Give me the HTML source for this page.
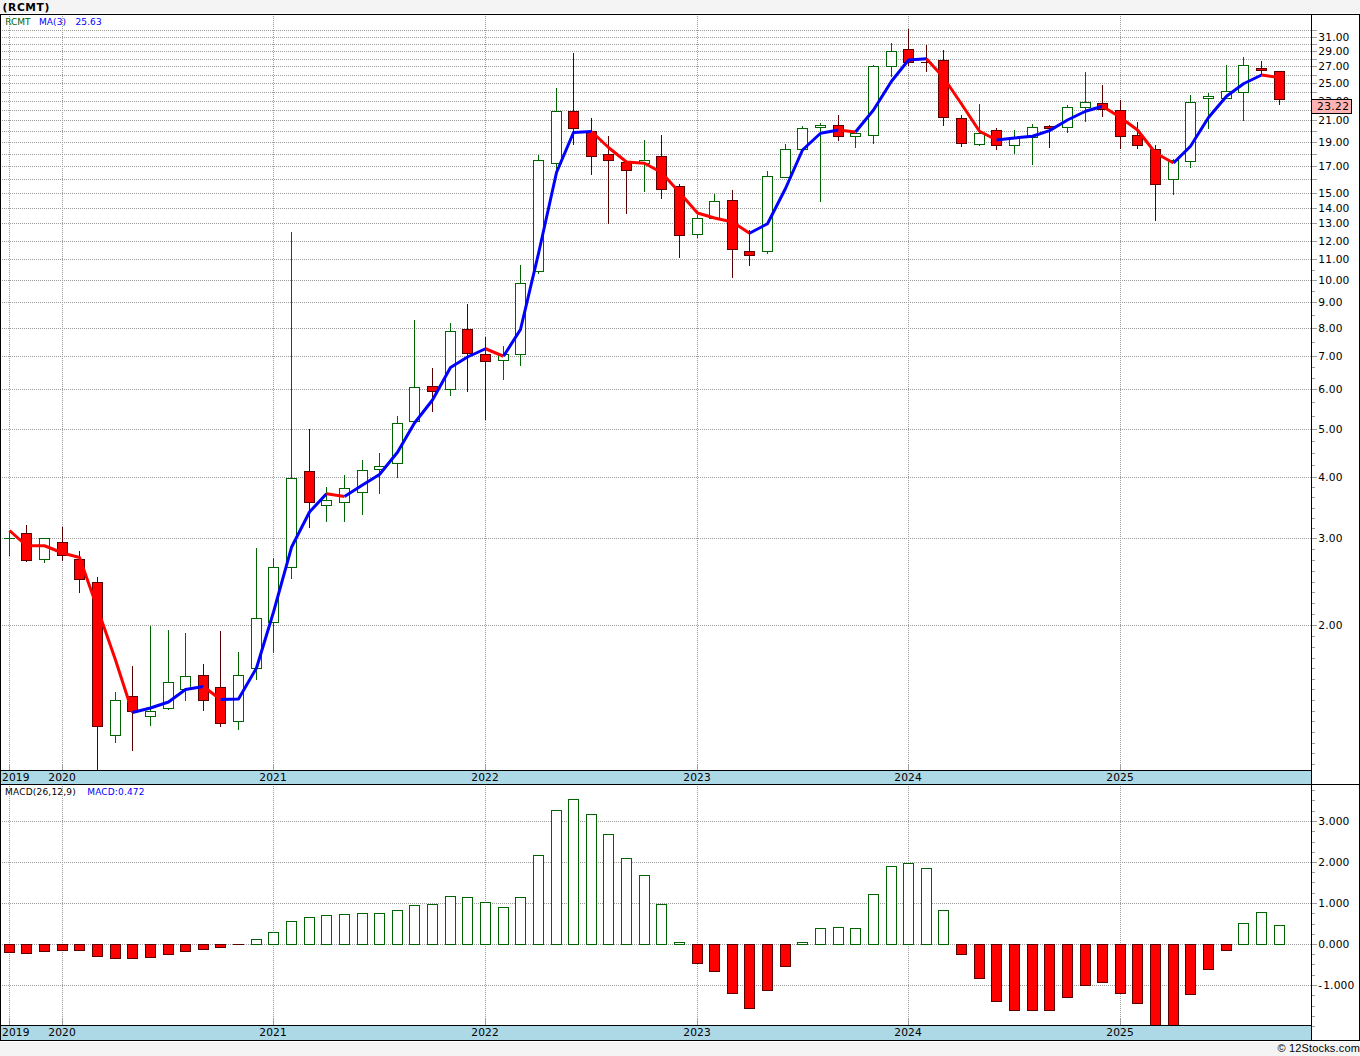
<!DOCTYPE html>
<html><head><meta charset="utf-8"><title>(RCMT)</title>
<style>html,body{margin:0;padding:0;background:#f4f4f4;}svg{display:block;}</style>
</head><body>
<svg width="1360" height="1056" viewBox="0 0 1360 1056">
<rect x="0" y="0" width="1360" height="1056" fill="#f4f4f4"/>
<rect x="0" y="13" width="1360" height="1029" fill="#ffffff"/>
<g shape-rendering="crispEdges" stroke="#9c9c9c" stroke-width="1" stroke-dasharray="1 1" fill="none">
<line x1="2" y1="30.5" x2="1311" y2="30.5"/>
<line x1="2" y1="37.5" x2="1311" y2="37.5"/>
<line x1="2" y1="44.5" x2="1311" y2="44.5"/>
<line x1="2" y1="51.5" x2="1311" y2="51.5"/>
<line x1="2" y1="59.5" x2="1311" y2="59.5"/>
<line x1="2" y1="66.5" x2="1311" y2="66.5"/>
<line x1="2" y1="75.5" x2="1311" y2="75.5"/>
<line x1="2" y1="83.5" x2="1311" y2="83.5"/>
<line x1="2" y1="92.5" x2="1311" y2="92.5"/>
<line x1="2" y1="101.5" x2="1311" y2="101.5"/>
<line x1="2" y1="110.5" x2="1311" y2="110.5"/>
<line x1="2" y1="120.5" x2="1311" y2="120.5"/>
<line x1="2" y1="131.5" x2="1311" y2="131.5"/>
<line x1="2" y1="142.5" x2="1311" y2="142.5"/>
<line x1="2" y1="154.5" x2="1311" y2="154.5"/>
<line x1="2" y1="166.5" x2="1311" y2="166.5"/>
<line x1="2" y1="179.5" x2="1311" y2="179.5"/>
<line x1="2" y1="193.5" x2="1311" y2="193.5"/>
<line x1="2" y1="208.5" x2="1311" y2="208.5"/>
<line x1="2" y1="223.5" x2="1311" y2="223.5"/>
<line x1="2" y1="241.5" x2="1311" y2="241.5"/>
<line x1="2" y1="259.5" x2="1311" y2="259.5"/>
<line x1="2" y1="280.5" x2="1311" y2="280.5"/>
<line x1="2" y1="302.5" x2="1311" y2="302.5"/>
<line x1="2" y1="328.5" x2="1311" y2="328.5"/>
<line x1="2" y1="356.5" x2="1311" y2="356.5"/>
<line x1="2" y1="389.5" x2="1311" y2="389.5"/>
<line x1="2" y1="429.5" x2="1311" y2="429.5"/>
<line x1="2" y1="477.5" x2="1311" y2="477.5"/>
<line x1="2" y1="538.5" x2="1311" y2="538.5"/>
<line x1="2" y1="625.5" x2="1311" y2="625.5"/>
<line x1="2" y1="821.5" x2="1311" y2="821.5"/>
<line x1="2" y1="862.5" x2="1311" y2="862.5"/>
<line x1="2" y1="903.5" x2="1311" y2="903.5"/>
<line x1="2" y1="944.5" x2="1311" y2="944.5"/>
<line x1="2" y1="985.5" x2="1311" y2="985.5"/>
<line x1="9.5" y1="16" x2="9.5" y2="770"/>
<line x1="9.5" y1="786" x2="9.5" y2="1025"/>
<line x1="62.5" y1="16" x2="62.5" y2="770"/>
<line x1="62.5" y1="786" x2="62.5" y2="1025"/>
<line x1="273.5" y1="16" x2="273.5" y2="770"/>
<line x1="273.5" y1="786" x2="273.5" y2="1025"/>
<line x1="485.5" y1="16" x2="485.5" y2="770"/>
<line x1="485.5" y1="786" x2="485.5" y2="1025"/>
<line x1="697.5" y1="16" x2="697.5" y2="770"/>
<line x1="697.5" y1="786" x2="697.5" y2="1025"/>
<line x1="908.5" y1="16" x2="908.5" y2="770"/>
<line x1="908.5" y1="786" x2="908.5" y2="1025"/>
<line x1="1120.5" y1="16" x2="1120.5" y2="770"/>
<line x1="1120.5" y1="786" x2="1120.5" y2="1025"/>
</g>
<g shape-rendering="crispEdges" stroke="#a0a0a0" stroke-width="1">
<line x1="1312" y1="30.5" x2="1317" y2="30.5"/>
<line x1="1312" y1="37.5" x2="1317" y2="37.5"/>
<line x1="1312" y1="44.5" x2="1317" y2="44.5"/>
<line x1="1312" y1="51.5" x2="1317" y2="51.5"/>
<line x1="1312" y1="59.5" x2="1317" y2="59.5"/>
<line x1="1312" y1="66.5" x2="1317" y2="66.5"/>
<line x1="1312" y1="75.5" x2="1317" y2="75.5"/>
<line x1="1312" y1="83.5" x2="1317" y2="83.5"/>
<line x1="1312" y1="92.5" x2="1317" y2="92.5"/>
<line x1="1312" y1="101.5" x2="1317" y2="101.5"/>
<line x1="1312" y1="110.5" x2="1317" y2="110.5"/>
<line x1="1312" y1="120.5" x2="1317" y2="120.5"/>
<line x1="1312" y1="131.5" x2="1317" y2="131.5"/>
<line x1="1312" y1="142.5" x2="1317" y2="142.5"/>
<line x1="1312" y1="154.5" x2="1317" y2="154.5"/>
<line x1="1312" y1="166.5" x2="1317" y2="166.5"/>
<line x1="1312" y1="179.5" x2="1317" y2="179.5"/>
<line x1="1312" y1="193.5" x2="1317" y2="193.5"/>
<line x1="1312" y1="208.5" x2="1317" y2="208.5"/>
<line x1="1312" y1="223.5" x2="1317" y2="223.5"/>
<line x1="1312" y1="241.5" x2="1317" y2="241.5"/>
<line x1="1312" y1="259.5" x2="1317" y2="259.5"/>
<line x1="1312" y1="280.5" x2="1317" y2="280.5"/>
<line x1="1312" y1="302.5" x2="1317" y2="302.5"/>
<line x1="1312" y1="328.5" x2="1317" y2="328.5"/>
<line x1="1312" y1="356.5" x2="1317" y2="356.5"/>
<line x1="1312" y1="389.5" x2="1317" y2="389.5"/>
<line x1="1312" y1="429.5" x2="1317" y2="429.5"/>
<line x1="1312" y1="477.5" x2="1317" y2="477.5"/>
<line x1="1312" y1="538.5" x2="1317" y2="538.5"/>
<line x1="1312" y1="625.5" x2="1317" y2="625.5"/>
<line x1="1312" y1="614.5" x2="1315" y2="614.5"/>
<line x1="1312" y1="603.5" x2="1315" y2="603.5"/>
<line x1="1312" y1="592.5" x2="1315" y2="592.5"/>
<line x1="1312" y1="582.5" x2="1315" y2="582.5"/>
<line x1="1312" y1="571.5" x2="1315" y2="571.5"/>
<line x1="1312" y1="560.5" x2="1315" y2="560.5"/>
<line x1="1312" y1="549.5" x2="1315" y2="549.5"/>
<line x1="1312" y1="528.5" x2="1315" y2="528.5"/>
<line x1="1312" y1="518.5" x2="1315" y2="518.5"/>
<line x1="1312" y1="508.5" x2="1315" y2="508.5"/>
<line x1="1312" y1="497.5" x2="1315" y2="497.5"/>
<line x1="1312" y1="487.5" x2="1315" y2="487.5"/>
<line x1="1312" y1="465.5" x2="1315" y2="465.5"/>
<line x1="1312" y1="453.5" x2="1315" y2="453.5"/>
<line x1="1312" y1="441.5" x2="1315" y2="441.5"/>
<line x1="1312" y1="416.5" x2="1315" y2="416.5"/>
<line x1="1312" y1="402.5" x2="1315" y2="402.5"/>
<line x1="1312" y1="378.5" x2="1315" y2="378.5"/>
<line x1="1312" y1="367.5" x2="1315" y2="367.5"/>
<line x1="1312" y1="342.5" x2="1315" y2="342.5"/>
<line x1="1312" y1="315.5" x2="1315" y2="315.5"/>
<line x1="1312" y1="291.5" x2="1315" y2="291.5"/>
<line x1="1312" y1="270.5" x2="1315" y2="270.5"/>
<line x1="1312" y1="636.5" x2="1315" y2="636.5"/>
<line x1="1312" y1="647.5" x2="1315" y2="647.5"/>
<line x1="1312" y1="658.5" x2="1315" y2="658.5"/>
<line x1="1312" y1="668.5" x2="1315" y2="668.5"/>
<line x1="1312" y1="679.5" x2="1315" y2="679.5"/>
<line x1="1312" y1="689.5" x2="1315" y2="689.5"/>
<line x1="1312" y1="700.5" x2="1315" y2="700.5"/>
<line x1="1312" y1="711.5" x2="1315" y2="711.5"/>
<line x1="1312" y1="721.5" x2="1315" y2="721.5"/>
<line x1="1312" y1="732.5" x2="1315" y2="732.5"/>
<line x1="1312" y1="743.5" x2="1315" y2="743.5"/>
<line x1="1312" y1="753.5" x2="1315" y2="753.5"/>
<line x1="1312" y1="764.5" x2="1315" y2="764.5"/>
<line x1="1312" y1="821.5" x2="1317" y2="821.5"/>
<line x1="1312" y1="862.5" x2="1317" y2="862.5"/>
<line x1="1312" y1="903.5" x2="1317" y2="903.5"/>
<line x1="1312" y1="944.5" x2="1317" y2="944.5"/>
<line x1="1312" y1="985.5" x2="1317" y2="985.5"/>
<line x1="9.5" y1="764" x2="9.5" y2="770"/>
<line x1="9.5" y1="1019" x2="9.5" y2="1025"/>
<line x1="62.5" y1="764" x2="62.5" y2="770"/>
<line x1="62.5" y1="1019" x2="62.5" y2="1025"/>
<line x1="273.5" y1="764" x2="273.5" y2="770"/>
<line x1="273.5" y1="1019" x2="273.5" y2="1025"/>
<line x1="485.5" y1="764" x2="485.5" y2="770"/>
<line x1="485.5" y1="1019" x2="485.5" y2="1025"/>
<line x1="697.5" y1="764" x2="697.5" y2="770"/>
<line x1="697.5" y1="1019" x2="697.5" y2="1025"/>
<line x1="908.5" y1="764" x2="908.5" y2="770"/>
<line x1="908.5" y1="1019" x2="908.5" y2="1025"/>
<line x1="1120.5" y1="764" x2="1120.5" y2="770"/>
<line x1="1120.5" y1="1019" x2="1120.5" y2="1025"/>
<line x1="1312" y1="1026.5" x2="1315" y2="1026.5"/>
<line x1="1312" y1="790.5" x2="1315" y2="790.5"/>
<line x1="1312" y1="800.5" x2="1315" y2="800.5"/>
<line x1="1312" y1="811.5" x2="1315" y2="811.5"/>
<line x1="1312" y1="831.5" x2="1315" y2="831.5"/>
<line x1="1312" y1="842.5" x2="1315" y2="842.5"/>
<line x1="1312" y1="852.5" x2="1315" y2="852.5"/>
<line x1="1312" y1="872.5" x2="1315" y2="872.5"/>
<line x1="1312" y1="882.5" x2="1315" y2="882.5"/>
<line x1="1312" y1="893.5" x2="1315" y2="893.5"/>
<line x1="1312" y1="913.5" x2="1315" y2="913.5"/>
<line x1="1312" y1="924.5" x2="1315" y2="924.5"/>
<line x1="1312" y1="934.5" x2="1315" y2="934.5"/>
<line x1="1312" y1="954.5" x2="1315" y2="954.5"/>
<line x1="1312" y1="964.5" x2="1315" y2="964.5"/>
<line x1="1312" y1="975.5" x2="1315" y2="975.5"/>
<line x1="1312" y1="995.5" x2="1315" y2="995.5"/>
<line x1="1312" y1="1006.5" x2="1315" y2="1006.5"/>
<line x1="1312" y1="1016.5" x2="1315" y2="1016.5"/>
</g>
<g shape-rendering="crispEdges" stroke-width="1">
<line x1="9.5" y1="531" x2="9.5" y2="556" stroke="#006400"/>
<line x1="4" y1="538.5" x2="15" y2="538.5" stroke="#006400"/>
<line x1="26.5" y1="525" x2="26.5" y2="562" stroke="#5a0000"/>
<rect x="21.5" y="533.5" width="10" height="27" fill="#ff0000" stroke="#5a0000"/>
<line x1="44.5" y1="538" x2="44.5" y2="563" stroke="#006400"/>
<rect x="39.5" y="538.5" width="10" height="21" fill="#ffffff" stroke="#006400"/>
<line x1="62.5" y1="527" x2="62.5" y2="561" stroke="#5a0000"/>
<rect x="57.5" y="542.5" width="10" height="13" fill="#ff0000" stroke="#5a0000"/>
<line x1="79.5" y1="551" x2="79.5" y2="593" stroke="#5a0000"/>
<rect x="74.5" y="559.5" width="10" height="20" fill="#ff0000" stroke="#5a0000"/>
<line x1="97.5" y1="577" x2="97.5" y2="770" stroke="#5a0000"/>
<rect x="92.5" y="582.5" width="10" height="144" fill="#ff0000" stroke="#5a0000"/>
<line x1="115.5" y1="692" x2="115.5" y2="743" stroke="#006400"/>
<rect x="110.5" y="700.5" width="10" height="35" fill="#ffffff" stroke="#006400"/>
<line x1="132.5" y1="666" x2="132.5" y2="751" stroke="#5a0000"/>
<rect x="127.5" y="696.5" width="10" height="15" fill="#ff0000" stroke="#5a0000"/>
<line x1="150.5" y1="626" x2="150.5" y2="726" stroke="#006400"/>
<rect x="145.5" y="711.5" width="10" height="5" fill="#ffffff" stroke="#006400"/>
<line x1="168.5" y1="630" x2="168.5" y2="710" stroke="#006400"/>
<rect x="163.5" y="682.5" width="10" height="26" fill="#ffffff" stroke="#006400"/>
<line x1="185.5" y1="633" x2="185.5" y2="701" stroke="#006400"/>
<rect x="180.5" y="676.5" width="10" height="13" fill="#ffffff" stroke="#006400"/>
<line x1="203.5" y1="664" x2="203.5" y2="711" stroke="#5a0000"/>
<rect x="198.5" y="675.5" width="10" height="25" fill="#ff0000" stroke="#5a0000"/>
<line x1="220.5" y1="631" x2="220.5" y2="727" stroke="#5a0000"/>
<rect x="215.5" y="687.5" width="10" height="36" fill="#ff0000" stroke="#5a0000"/>
<line x1="238.5" y1="652" x2="238.5" y2="730" stroke="#006400"/>
<rect x="233.5" y="675.5" width="10" height="46" fill="#ffffff" stroke="#006400"/>
<line x1="256.5" y1="548" x2="256.5" y2="680" stroke="#006400"/>
<rect x="251.5" y="618.5" width="10" height="50" fill="#ffffff" stroke="#006400"/>
<line x1="273.5" y1="558" x2="273.5" y2="653" stroke="#006400"/>
<rect x="268.5" y="567.5" width="10" height="55" fill="#ffffff" stroke="#006400"/>
<line x1="291.5" y1="232" x2="291.5" y2="579" stroke="#006400"/>
<rect x="286.5" y="478.5" width="10" height="89" fill="#ffffff" stroke="#006400"/>
<line x1="309.5" y1="429" x2="309.5" y2="528" stroke="#5a0000"/>
<rect x="304.5" y="471.5" width="10" height="31" fill="#ff0000" stroke="#5a0000"/>
<line x1="326.5" y1="487" x2="326.5" y2="522" stroke="#006400"/>
<rect x="321.5" y="500.5" width="10" height="5" fill="#ffffff" stroke="#006400"/>
<line x1="344.5" y1="475" x2="344.5" y2="522" stroke="#006400"/>
<rect x="339.5" y="488.5" width="10" height="14" fill="#ffffff" stroke="#006400"/>
<line x1="362.5" y1="460" x2="362.5" y2="515" stroke="#006400"/>
<rect x="357.5" y="470.5" width="10" height="22" fill="#ffffff" stroke="#006400"/>
<line x1="379.5" y1="453" x2="379.5" y2="494" stroke="#006400"/>
<rect x="374.5" y="466.5" width="10" height="3" fill="#ffffff" stroke="#006400"/>
<line x1="397.5" y1="416" x2="397.5" y2="478" stroke="#006400"/>
<rect x="392.5" y="423.5" width="10" height="40" fill="#ffffff" stroke="#006400"/>
<line x1="414.5" y1="320" x2="414.5" y2="421" stroke="#006400"/>
<rect x="409.5" y="387.5" width="10" height="34" fill="#ffffff" stroke="#006400"/>
<line x1="432.5" y1="368" x2="432.5" y2="412" stroke="#5a0000"/>
<rect x="427.5" y="386.5" width="10" height="5" fill="#ff0000" stroke="#5a0000"/>
<line x1="450.5" y1="323" x2="450.5" y2="396" stroke="#006400"/>
<rect x="445.5" y="331.5" width="10" height="58" fill="#ffffff" stroke="#006400"/>
<line x1="467.5" y1="304" x2="467.5" y2="392" stroke="#5a0000"/>
<rect x="462.5" y="329.5" width="10" height="24" fill="#ff0000" stroke="#5a0000"/>
<line x1="485.5" y1="337" x2="485.5" y2="420" stroke="#5a0000"/>
<rect x="480.5" y="354.5" width="10" height="7" fill="#ff0000" stroke="#5a0000"/>
<line x1="503.5" y1="346" x2="503.5" y2="380" stroke="#006400"/>
<rect x="498.5" y="354.5" width="10" height="6" fill="#ffffff" stroke="#006400"/>
<line x1="520.5" y1="265" x2="520.5" y2="366" stroke="#006400"/>
<rect x="515.5" y="283.5" width="10" height="71" fill="#ffffff" stroke="#006400"/>
<line x1="538.5" y1="155" x2="538.5" y2="274" stroke="#006400"/>
<rect x="533.5" y="160.5" width="10" height="111" fill="#ffffff" stroke="#006400"/>
<line x1="556.5" y1="88" x2="556.5" y2="170" stroke="#006400"/>
<rect x="551.5" y="111.5" width="10" height="52" fill="#ffffff" stroke="#006400"/>
<line x1="573.5" y1="53" x2="573.5" y2="145" stroke="#5a0000"/>
<rect x="568.5" y="111.5" width="10" height="17" fill="#ff0000" stroke="#5a0000"/>
<line x1="591.5" y1="118" x2="591.5" y2="175" stroke="#5a0000"/>
<rect x="586.5" y="131.5" width="10" height="25" fill="#ff0000" stroke="#5a0000"/>
<line x1="608.5" y1="136" x2="608.5" y2="224" stroke="#5a0000"/>
<rect x="603.5" y="154.5" width="10" height="6" fill="#ff0000" stroke="#5a0000"/>
<line x1="626.5" y1="162" x2="626.5" y2="214" stroke="#5a0000"/>
<rect x="621.5" y="162.5" width="10" height="8" fill="#ff0000" stroke="#5a0000"/>
<line x1="644.5" y1="140" x2="644.5" y2="192" stroke="#006400"/>
<rect x="639.5" y="160.5" width="10" height="3" fill="#ffffff" stroke="#006400"/>
<line x1="661.5" y1="135" x2="661.5" y2="199" stroke="#5a0000"/>
<rect x="656.5" y="156.5" width="10" height="33" fill="#ff0000" stroke="#5a0000"/>
<line x1="679.5" y1="184" x2="679.5" y2="258" stroke="#5a0000"/>
<rect x="674.5" y="186.5" width="10" height="49" fill="#ff0000" stroke="#5a0000"/>
<line x1="697.5" y1="215" x2="697.5" y2="238" stroke="#006400"/>
<rect x="692.5" y="218.5" width="10" height="16" fill="#ffffff" stroke="#006400"/>
<line x1="714.5" y1="194" x2="714.5" y2="218" stroke="#006400"/>
<rect x="709.5" y="201.5" width="10" height="17" fill="#ffffff" stroke="#006400"/>
<line x1="732.5" y1="190" x2="732.5" y2="278" stroke="#5a0000"/>
<rect x="727.5" y="200.5" width="10" height="49" fill="#ff0000" stroke="#5a0000"/>
<line x1="749.5" y1="230" x2="749.5" y2="266" stroke="#5a0000"/>
<rect x="744.5" y="251.5" width="10" height="4" fill="#ff0000" stroke="#5a0000"/>
<line x1="767.5" y1="171" x2="767.5" y2="254" stroke="#006400"/>
<rect x="762.5" y="176.5" width="10" height="75" fill="#ffffff" stroke="#006400"/>
<line x1="785.5" y1="144" x2="785.5" y2="177" stroke="#006400"/>
<rect x="780.5" y="149.5" width="10" height="28" fill="#ffffff" stroke="#006400"/>
<line x1="802.5" y1="126" x2="802.5" y2="149" stroke="#006400"/>
<rect x="797.5" y="128.5" width="10" height="21" fill="#ffffff" stroke="#006400"/>
<line x1="820.5" y1="123" x2="820.5" y2="202" stroke="#006400"/>
<rect x="815.5" y="125.5" width="10" height="2" fill="#ffffff" stroke="#006400"/>
<line x1="838.5" y1="115" x2="838.5" y2="141" stroke="#5a0000"/>
<rect x="833.5" y="125.5" width="10" height="11" fill="#ff0000" stroke="#5a0000"/>
<line x1="855.5" y1="133" x2="855.5" y2="148" stroke="#006400"/>
<rect x="850.5" y="133.5" width="10" height="3" fill="#ffffff" stroke="#006400"/>
<line x1="873.5" y1="65" x2="873.5" y2="144" stroke="#006400"/>
<rect x="868.5" y="66.5" width="10" height="69" fill="#ffffff" stroke="#006400"/>
<line x1="891.5" y1="43" x2="891.5" y2="77" stroke="#006400"/>
<rect x="886.5" y="51.5" width="10" height="15" fill="#ffffff" stroke="#006400"/>
<line x1="908.5" y1="29" x2="908.5" y2="66" stroke="#5a0000"/>
<rect x="903.5" y="49.5" width="10" height="13" fill="#ff0000" stroke="#5a0000"/>
<line x1="926.5" y1="45" x2="926.5" y2="72" stroke="#5a0000"/>
<line x1="921" y1="62.5" x2="932" y2="62.5" stroke="#5a0000"/>
<line x1="943.5" y1="50" x2="943.5" y2="126" stroke="#5a0000"/>
<rect x="938.5" y="60.5" width="10" height="57" fill="#ff0000" stroke="#5a0000"/>
<line x1="961.5" y1="115" x2="961.5" y2="147" stroke="#5a0000"/>
<rect x="956.5" y="118.5" width="10" height="25" fill="#ff0000" stroke="#5a0000"/>
<line x1="979.5" y1="104" x2="979.5" y2="146" stroke="#006400"/>
<rect x="974.5" y="133.5" width="10" height="11" fill="#ffffff" stroke="#006400"/>
<line x1="996.5" y1="128" x2="996.5" y2="150" stroke="#5a0000"/>
<rect x="991.5" y="130.5" width="10" height="15" fill="#ff0000" stroke="#5a0000"/>
<line x1="1014.5" y1="130" x2="1014.5" y2="154" stroke="#006400"/>
<rect x="1009.5" y="137.5" width="10" height="8" fill="#ffffff" stroke="#006400"/>
<line x1="1032.5" y1="124" x2="1032.5" y2="165" stroke="#006400"/>
<rect x="1027.5" y="127.5" width="10" height="10" fill="#ffffff" stroke="#006400"/>
<line x1="1049.5" y1="125" x2="1049.5" y2="148" stroke="#5a0000"/>
<rect x="1044.5" y="126.5" width="10" height="2" fill="#ff0000" stroke="#5a0000"/>
<line x1="1067.5" y1="105" x2="1067.5" y2="133" stroke="#006400"/>
<rect x="1062.5" y="107.5" width="10" height="20" fill="#ffffff" stroke="#006400"/>
<line x1="1085.5" y1="72" x2="1085.5" y2="122" stroke="#006400"/>
<rect x="1080.5" y="102.5" width="10" height="5" fill="#ffffff" stroke="#006400"/>
<line x1="1102.5" y1="85" x2="1102.5" y2="117" stroke="#5a0000"/>
<rect x="1097.5" y="103.5" width="10" height="6" fill="#ff0000" stroke="#5a0000"/>
<line x1="1120.5" y1="100" x2="1120.5" y2="149" stroke="#5a0000"/>
<rect x="1115.5" y="110.5" width="10" height="26" fill="#ff0000" stroke="#5a0000"/>
<line x1="1137.5" y1="122" x2="1137.5" y2="149" stroke="#5a0000"/>
<rect x="1132.5" y="135.5" width="10" height="10" fill="#ff0000" stroke="#5a0000"/>
<line x1="1155.5" y1="145" x2="1155.5" y2="221" stroke="#5a0000"/>
<rect x="1150.5" y="149.5" width="10" height="35" fill="#ff0000" stroke="#5a0000"/>
<line x1="1173.5" y1="159" x2="1173.5" y2="195" stroke="#006400"/>
<rect x="1168.5" y="160.5" width="10" height="19" fill="#ffffff" stroke="#006400"/>
<line x1="1190.5" y1="95" x2="1190.5" y2="168" stroke="#006400"/>
<rect x="1185.5" y="102.5" width="10" height="59" fill="#ffffff" stroke="#006400"/>
<line x1="1208.5" y1="93" x2="1208.5" y2="129" stroke="#006400"/>
<rect x="1203.5" y="96.5" width="10" height="2" fill="#ffffff" stroke="#006400"/>
<line x1="1226.5" y1="65" x2="1226.5" y2="98" stroke="#006400"/>
<rect x="1221.5" y="91.5" width="10" height="7" fill="#ffffff" stroke="#006400"/>
<line x1="1243.5" y1="57" x2="1243.5" y2="121" stroke="#006400"/>
<rect x="1238.5" y="65.5" width="10" height="27" fill="#ffffff" stroke="#006400"/>
<line x1="1261.5" y1="61" x2="1261.5" y2="75" stroke="#5a0000"/>
<rect x="1256.5" y="68.5" width="10" height="2" fill="#ff0000" stroke="#5a0000"/>
<line x1="1279.5" y1="71" x2="1279.5" y2="105" stroke="#5a0000"/>
<rect x="1274.5" y="71.5" width="10" height="28" fill="#ff0000" stroke="#5a0000"/>
</g>
<g fill="none" stroke-width="3.0" stroke-linecap="butt" stroke-linejoin="round">
<polyline points="9.5,530.5 26.5,545.75 44.5,545.75 62.5,553 79.5,557.5 97.5,608.5 115.5,660 132.5,712.5" stroke="#ff0000"/>
<polyline points="132.5,712.5 150.5,708 168.5,702 185.5,689.5 203.5,686.5" stroke="#0000ff"/>
<polyline points="203.5,686.5 220.5,699.5" stroke="#ff0000"/>
<polyline points="220.5,699.5 238.5,699 256.5,668 273.5,612 291.5,547.3 309.5,512 326.5,493.75" stroke="#0000ff"/>
<polyline points="326.5,493.75 344.5,496.5" stroke="#ff0000"/>
<polyline points="344.5,496.5 362.5,485 379.5,474.5 397.5,452.3 414.5,423 432.5,400 450.5,367.5 467.5,357 485.5,348.75" stroke="#0000ff"/>
<polyline points="485.5,348.75 503.5,356.25" stroke="#ff0000"/>
<polyline points="503.5,356.25 520.5,329.5 538.5,253.5 556.5,172.5 573.5,132.5 591.5,131.5" stroke="#0000ff"/>
<polyline points="591.5,131.5 608.5,147.5 626.5,162 644.5,163.25 661.5,172.5 679.5,192.5 697.5,213 714.5,218 732.5,222 749.5,233.25" stroke="#ff0000"/>
<polyline points="749.5,233.25 767.5,223.75 785.5,188.5 802.5,150 820.5,133.25 838.5,130" stroke="#0000ff"/>
<polyline points="838.5,130 855.5,132" stroke="#ff0000"/>
<polyline points="855.5,132 873.5,110 891.5,81.25 908.5,60 926.5,58.75" stroke="#0000ff"/>
<polyline points="926.5,58.75 943.5,77.5 961.5,104 979.5,131.25 996.5,140" stroke="#ff0000"/>
<polyline points="996.5,140 1014.5,138 1032.5,136.25 1049.5,130.6 1067.5,120 1085.5,111.25 1102.5,106.25" stroke="#0000ff"/>
<polyline points="1102.5,106.25 1120.5,117.5 1137.5,130 1155.5,153 1173.5,163" stroke="#ff0000"/>
<polyline points="1173.5,163 1190.5,146.25 1208.5,117.5 1226.5,96.25 1243.5,83.75 1261.5,75" stroke="#0000ff"/>
<polyline points="1261.5,75 1279.5,77.5" stroke="#ff0000"/>
</g>
<g shape-rendering="crispEdges" stroke-width="1">
<rect x="4.5" y="944.5" width="10" height="8" fill="#ff0000" stroke="#5a0000"/>
<rect x="21.5" y="944.5" width="10" height="9" fill="#ff0000" stroke="#5a0000"/>
<rect x="39.5" y="944.5" width="10" height="7" fill="#ff0000" stroke="#5a0000"/>
<rect x="57.5" y="944.5" width="10" height="6" fill="#ff0000" stroke="#5a0000"/>
<rect x="74.5" y="944.5" width="10" height="6" fill="#ff0000" stroke="#5a0000"/>
<rect x="92.5" y="944.5" width="10" height="12" fill="#ff0000" stroke="#5a0000"/>
<rect x="110.5" y="944.5" width="10" height="14" fill="#ff0000" stroke="#5a0000"/>
<rect x="127.5" y="944.5" width="10" height="14" fill="#ff0000" stroke="#5a0000"/>
<rect x="145.5" y="944.5" width="10" height="13" fill="#ff0000" stroke="#5a0000"/>
<rect x="163.5" y="944.5" width="10" height="10" fill="#ff0000" stroke="#5a0000"/>
<rect x="180.5" y="944.5" width="10" height="7" fill="#ff0000" stroke="#5a0000"/>
<rect x="198.5" y="944.5" width="10" height="5" fill="#ff0000" stroke="#5a0000"/>
<rect x="215.5" y="944.5" width="10" height="3" fill="#ff0000" stroke="#5a0000"/>
<line x1="233" y1="944.5" x2="244" y2="944.5" stroke="#5a0000"/>
<rect x="251.5" y="939.5" width="10" height="5" fill="#ffffff" stroke="#006400"/>
<rect x="268.5" y="932.5" width="10" height="12" fill="#ffffff" stroke="#006400"/>
<rect x="286.5" y="921.5" width="10" height="23" fill="#ffffff" stroke="#006400"/>
<rect x="304.5" y="917.5" width="10" height="27" fill="#ffffff" stroke="#006400"/>
<rect x="321.5" y="915.5" width="10" height="29" fill="#ffffff" stroke="#006400"/>
<rect x="339.5" y="914.5" width="10" height="30" fill="#ffffff" stroke="#006400"/>
<rect x="357.5" y="913.5" width="10" height="31" fill="#ffffff" stroke="#006400"/>
<rect x="374.5" y="913.5" width="10" height="31" fill="#ffffff" stroke="#006400"/>
<rect x="392.5" y="910.5" width="10" height="34" fill="#ffffff" stroke="#006400"/>
<rect x="409.5" y="905.5" width="10" height="39" fill="#ffffff" stroke="#006400"/>
<rect x="427.5" y="904.5" width="10" height="40" fill="#ffffff" stroke="#006400"/>
<rect x="445.5" y="896.5" width="10" height="48" fill="#ffffff" stroke="#006400"/>
<rect x="462.5" y="897.5" width="10" height="47" fill="#ffffff" stroke="#006400"/>
<rect x="480.5" y="902.5" width="10" height="42" fill="#ffffff" stroke="#006400"/>
<rect x="498.5" y="907.5" width="10" height="37" fill="#ffffff" stroke="#006400"/>
<rect x="515.5" y="897.5" width="10" height="47" fill="#ffffff" stroke="#006400"/>
<rect x="533.5" y="855.5" width="10" height="89" fill="#ffffff" stroke="#006400"/>
<rect x="551.5" y="810.5" width="10" height="134" fill="#ffffff" stroke="#006400"/>
<rect x="568.5" y="799.5" width="10" height="145" fill="#ffffff" stroke="#006400"/>
<rect x="586.5" y="814.5" width="10" height="130" fill="#ffffff" stroke="#006400"/>
<rect x="603.5" y="834.5" width="10" height="110" fill="#ffffff" stroke="#006400"/>
<rect x="621.5" y="858.5" width="10" height="86" fill="#ffffff" stroke="#006400"/>
<rect x="639.5" y="875.5" width="10" height="69" fill="#ffffff" stroke="#006400"/>
<rect x="656.5" y="904.5" width="10" height="40" fill="#ffffff" stroke="#006400"/>
<rect x="674.5" y="942.5" width="10" height="2" fill="#ffffff" stroke="#006400"/>
<rect x="692.5" y="944.5" width="10" height="19" fill="#ff0000" stroke="#5a0000"/>
<rect x="709.5" y="944.5" width="10" height="27" fill="#ff0000" stroke="#5a0000"/>
<rect x="727.5" y="944.5" width="10" height="49" fill="#ff0000" stroke="#5a0000"/>
<rect x="744.5" y="944.5" width="10" height="64" fill="#ff0000" stroke="#5a0000"/>
<rect x="762.5" y="944.5" width="10" height="46" fill="#ff0000" stroke="#5a0000"/>
<rect x="780.5" y="944.5" width="10" height="22" fill="#ff0000" stroke="#5a0000"/>
<rect x="797.5" y="942.5" width="10" height="2" fill="#ffffff" stroke="#006400"/>
<rect x="815.5" y="928.5" width="10" height="16" fill="#ffffff" stroke="#006400"/>
<rect x="833.5" y="927.5" width="10" height="17" fill="#ffffff" stroke="#006400"/>
<rect x="850.5" y="928.5" width="10" height="16" fill="#ffffff" stroke="#006400"/>
<rect x="868.5" y="894.5" width="10" height="50" fill="#ffffff" stroke="#006400"/>
<rect x="886.5" y="866.5" width="10" height="78" fill="#ffffff" stroke="#006400"/>
<rect x="903.5" y="863.5" width="10" height="81" fill="#ffffff" stroke="#006400"/>
<rect x="921.5" y="868.5" width="10" height="76" fill="#ffffff" stroke="#006400"/>
<rect x="938.5" y="910.5" width="10" height="34" fill="#ffffff" stroke="#006400"/>
<rect x="956.5" y="944.5" width="10" height="10" fill="#ff0000" stroke="#5a0000"/>
<rect x="974.5" y="944.5" width="10" height="34" fill="#ff0000" stroke="#5a0000"/>
<rect x="991.5" y="944.5" width="10" height="57" fill="#ff0000" stroke="#5a0000"/>
<rect x="1009.5" y="944.5" width="10" height="66" fill="#ff0000" stroke="#5a0000"/>
<rect x="1027.5" y="944.5" width="10" height="66" fill="#ff0000" stroke="#5a0000"/>
<rect x="1044.5" y="944.5" width="10" height="66" fill="#ff0000" stroke="#5a0000"/>
<rect x="1062.5" y="944.5" width="10" height="53" fill="#ff0000" stroke="#5a0000"/>
<rect x="1080.5" y="944.5" width="10" height="41" fill="#ff0000" stroke="#5a0000"/>
<rect x="1097.5" y="944.5" width="10" height="38" fill="#ff0000" stroke="#5a0000"/>
<rect x="1115.5" y="944.5" width="10" height="49" fill="#ff0000" stroke="#5a0000"/>
<rect x="1132.5" y="944.5" width="10" height="59" fill="#ff0000" stroke="#5a0000"/>
<rect x="1150.5" y="944.5" width="10" height="81" fill="#ff0000" stroke="#5a0000"/>
<rect x="1168.5" y="944.5" width="10" height="81" fill="#ff0000" stroke="#5a0000"/>
<rect x="1185.5" y="944.5" width="10" height="50" fill="#ff0000" stroke="#5a0000"/>
<rect x="1203.5" y="944.5" width="10" height="25" fill="#ff0000" stroke="#5a0000"/>
<rect x="1221.5" y="944.5" width="10" height="6" fill="#ff0000" stroke="#5a0000"/>
<rect x="1238.5" y="923.5" width="10" height="21" fill="#ffffff" stroke="#006400"/>
<rect x="1256.5" y="912.5" width="10" height="32" fill="#ffffff" stroke="#006400"/>
<rect x="1274.5" y="925.5" width="10" height="19" fill="#ffffff" stroke="#006400"/>
</g>
<g shape-rendering="crispEdges">
<rect x="1" y="771" width="1310" height="13" fill="#add8e6"/>
<rect x="1" y="1026" width="1310" height="14" fill="#add8e6"/>
<g stroke="#000000" stroke-width="1">
<line x1="0" y1="14.5" x2="1360" y2="14.5"/>
<line x1="0.5" y1="14" x2="0.5" y2="1041"/>
<line x1="1359.5" y1="14" x2="1359.5" y2="1041"/>
<line x1="1311.5" y1="14" x2="1311.5" y2="1041"/>
<line x1="0" y1="770.5" x2="1312" y2="770.5"/>
<line x1="0" y1="784.5" x2="1360" y2="784.5"/>
<line x1="0" y1="1025.5" x2="1312" y2="1025.5"/>
<line x1="0" y1="1040.5" x2="1360" y2="1040.5"/>
</g></g>
<g font-family='"DejaVu Sans", "Liberation Sans", sans-serif' font-size="10.67" fill="#000000" letter-spacing="0.15">
<text x="1318.3" y="40.9">31.00</text>
<text x="1318.3" y="54.9">29.00</text>
<text x="1318.3" y="69.9">27.00</text>
<text x="1318.3" y="86.9">25.00</text>
<text x="1318.3" y="104.9">23.00</text>
<text x="1318.3" y="123.9">21.00</text>
<text x="1318.3" y="145.9">19.00</text>
<text x="1318.3" y="169.9">17.00</text>
<text x="1318.3" y="196.9">15.00</text>
<text x="1318.3" y="211.9">14.00</text>
<text x="1318.3" y="226.9">13.00</text>
<text x="1318.3" y="244.9">12.00</text>
<text x="1318.3" y="262.9">11.00</text>
<text x="1318.3" y="283.9">10.00</text>
<text x="1318.3" y="305.9">9.00</text>
<text x="1318.3" y="331.9">8.00</text>
<text x="1318.3" y="359.9">7.00</text>
<text x="1318.3" y="392.9">6.00</text>
<text x="1318.3" y="432.9">5.00</text>
<text x="1318.3" y="480.9">4.00</text>
<text x="1318.3" y="541.9">3.00</text>
<text x="1318.3" y="628.9">2.00</text>
<text x="1318.3" y="824.9">3.000</text>
<text x="1318.3" y="865.9">2.000</text>
<text x="1318.3" y="906.9">1.000</text>
<text x="1318.3" y="947.9">0.000</text>
<text x="1318.3" y="988.9">-<tspan dx="0.9">1.000</tspan></text>
<text x="2" y="781">2019</text><text x="2" y="1036">2019</text>
<text x="62.1" y="781" text-anchor="middle">2020</text><text x="62.1" y="1036" text-anchor="middle">2020</text>
<text x="273.1" y="781" text-anchor="middle">2021</text><text x="273.1" y="1036" text-anchor="middle">2021</text>
<text x="485.1" y="781" text-anchor="middle">2022</text><text x="485.1" y="1036" text-anchor="middle">2022</text>
<text x="697.1" y="781" text-anchor="middle">2023</text><text x="697.1" y="1036" text-anchor="middle">2023</text>
<text x="908.1" y="781" text-anchor="middle">2024</text><text x="908.1" y="1036" text-anchor="middle">2024</text>
<text x="1120.1" y="781" text-anchor="middle">2025</text><text x="1120.1" y="1036" text-anchor="middle">2025</text>
</g>
<rect x="1311.5" y="99.5" width="40" height="14" fill="#ffb3b3" stroke="#000000" stroke-width="1" shape-rendering="crispEdges"/>
<text x="1317" y="110.1" font-family='"DejaVu Sans", "Liberation Sans", sans-serif' font-size="10.67" fill="#000000" letter-spacing="0.35">23.22</text>
<text x="2.5" y="11" font-family='"DejaVu Sans", "Liberation Sans", sans-serif' font-size="10.67" font-weight="bold" fill="#000000" letter-spacing="0.65">(RCMT)</text>
<g font-family='"DejaVu Sans", "Liberation Sans", sans-serif' font-size="9">
<text x="5.2" y="24.9" fill="#006400">RCMT</text>
<text x="39" y="24.9" fill="#0000ff" letter-spacing="0.1">MA(3)</text>
<text x="75.5" y="24.9" fill="#0000ff" letter-spacing="0.1">25.63</text>
<text x="5" y="795" fill="#000000" letter-spacing="0.2">MACD(26,12,9)</text>
<text x="87.3" y="795" fill="#0000ff" letter-spacing="0.15">MACD:0.472</text>
</g>
<text x="1360.0" y="1052" text-anchor="end" font-family='"Liberation Sans", sans-serif' font-size="11" letter-spacing="0.17" fill="#000000">© 12Stocks.com</text>
</svg>
</body></html>
